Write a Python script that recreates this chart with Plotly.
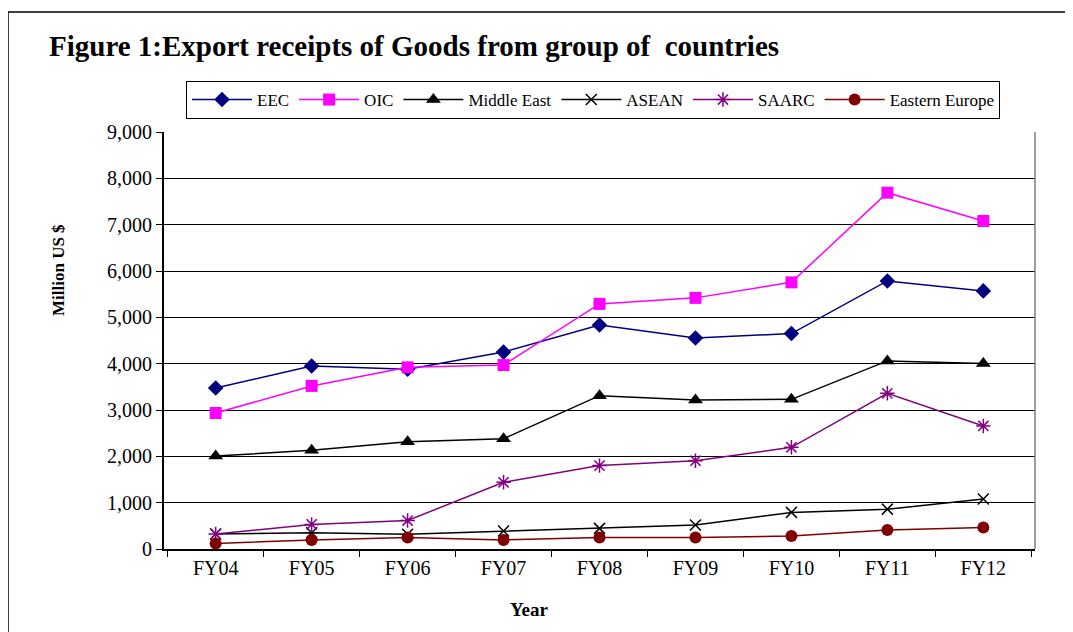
import plotly.graph_objects as go

years = ["FY04", "FY05", "FY06", "FY07", "FY08", "FY09", "FY10", "FY11", "FY12"]
eec = [3475, 3950, 3880, 4250, 4835, 4555, 4650, 5785, 5570]
oic = [2935, 3520, 3920, 3970, 5290, 5420, 5755, 7690, 7080]
middle_east = [2005, 2130, 2315, 2380, 3310, 3215, 3230, 4060, 4005]
asean = [325, 350, 320, 390, 445, 520, 790, 860, 1080]
saarc = [325, 530, 615, 1440, 1800, 1905, 2195, 3360, 2655]
eastern_europe = [120, 195, 250, 195, 250, 250, 280, 410, 465]

series = [
    ("EEC", eec, "#000080", "diamond", 12, 1.5),
    ("OIC", oic, "#FF00FF", "square", 12, 1.5),
    ("Middle East", middle_east, "#000000", "triangle-up", 13, 1.5),
    ("ASEAN", asean, "#000000", "x-thin", 11, 1.5),
    ("SAARC", saarc, "#800080", "asterisk", 12, 1.5),
    ("Eastern Europe", eastern_europe, "#800000", "circle", 12, 1.5),
]

fig = go.Figure()
for name, vals, col, sym, sz, lw in series:
    line_sym = sym in ("x-thin", "asterisk")
    fig.add_trace(go.Scatter(
        x=years, y=vals, name=name, mode="lines+markers",
        line=dict(color=col, width=lw),
        marker=dict(symbol=sym, size=sz, color=col,
                    line=dict(color=col, width=1.5 if line_sym else 0)),
    ))

OFF = 8  # page body margin
W, H = 1073 - OFF, 632 - OFF
L, R, T, B = 164 - OFF, 1035 - OFF, 132 - OFF, 549 - OFF
pw, ph = R - L, B - T

def px(x):
    return (x - OFF - L) / pw

def py(y):
    return (B - (y - OFF)) / ph

fig.update_layout(
    width=W, height=H,
    margin=dict(l=L, r=W - R, t=T, b=H - B),
    paper_bgcolor="white", plot_bgcolor="white",
    font=dict(family="Liberation Serif, Times New Roman, serif", color="black"),
    showlegend=True,
    legend=dict(
        orientation="h", x=px(186), y=py(81), xanchor="left", yanchor="top",
        bordercolor="black", borderwidth=1, bgcolor="white",
        font=dict(size=17, family="Liberation Serif, serif"),
        itemwidth=60, tracegroupgap=0,
    ),
    xaxis=dict(
        type="category", showgrid=False, showline=True, linecolor="black", linewidth=1.5,
        ticks="outside", tickson="boundaries", ticklen=6, tickcolor="black",
        tickfont=dict(size=20), mirror=False,
    ),
    yaxis=dict(
        range=[0, 9000], dtick=1000, tickformat=",", showgrid=True, gridcolor="black",
        gridwidth=1, showline=True, linecolor="black", linewidth=2,
        ticks="outside", ticklen=6, tickcolor="black", tickfont=dict(size=20),
        zeroline=False,
    ),
    shapes=[
        dict(type="rect", xref="paper", yref="paper", x0=px(8), x1=px(1100),
             y0=py(660), y1=py(12), line=dict(color="black", width=1.5), layer="below"),
        dict(type="line", xref="paper", yref="paper", x0=1, x1=1, y0=0, y1=1,
             line=dict(color="#808080", width=1.5)),
    ],
    annotations=[
        dict(text="<b>Figure 1:Export receipts of Goods from group of  countries</b>",
             xref="paper", yref="paper", x=px(47), y=py(46), xanchor="left", yanchor="middle",
             showarrow=False, font=dict(size=29, family="Liberation Serif, serif")),
        dict(text="<b>Million US $</b>", xref="paper", yref="paper", x=px(58), y=py(270),
             xanchor="center", yanchor="middle", textangle=-90, showarrow=False,
             font=dict(size=17, family="Liberation Serif, serif")),
        dict(text="<b>Year</b>", xref="paper", yref="paper", x=px(529), y=py(609),
             xanchor="center", yanchor="middle", showarrow=False,
             font=dict(size=19, family="Liberation Serif, serif")),
    ],
)

fig.write_html("out.html")
